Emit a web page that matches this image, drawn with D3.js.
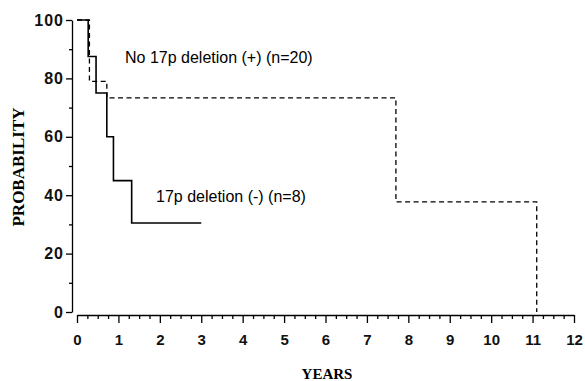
<!DOCTYPE html>
<html>
<head>
<meta charset="utf-8">
<script src="https://cdn.jsdelivr.net/npm/d3@7"></script>
<style>
  body { margin: 0; background: #fff; }
  .tick text { font-family: "Liberation Sans", Arial, sans-serif; font-weight: bold; font-size: 15px; }
  .y-axis .tick text { font-size: 16px; letter-spacing: 1px; }
  .axis-title { font-family: "Liberation Serif", "Times New Roman", serif; font-weight: bold; }
  .note { font-family: "Liberation Sans", Arial, sans-serif; font-size: 16px; }
</style>
</head>
<body>
<div class="canvas"></div>
<script>
// survival curve: 17p deletion (-) n=8, solid
const delTimes = [0, 0.27, 0.46, 0.72, 0.88, 1.32, 3.0];
const delProb  = [100, 87.5, 75, 60, 45, 30.5, 30.5];

// survival curve: no 17p deletion (+) n=20, dashed
const noDelTimes = [0, 0.3, 0.72, 7.7, 11.1];
const noDelProb  = [100, 79, 73.3, 37.7, 0];

const xTicks = [0, 1, 2, 3, 4, 5, 6, 7, 8, 9, 10, 11, 12];
const yTicks = [0, 20, 40, 60, 80, 100];
const labels = ['No 17p deletion (+) (n=20)', '17p deletion (-) (n=8)'];

const dims = { width: 585, height: 381 };

const svg = d3.select('.canvas')
            .append('svg')
            .attr('width', dims.width)
            .attr('height', dims.height);

const x = d3.scaleLinear().domain([0, 12]).range([77, 574]);
const y = d3.scaleLinear().domain([0, 100]).range([312, 20]);

// y axis (major + minor ticks)
svg.append('g')
   .attr('class', 'y-axis')
   .attr('transform', 'translate(72, 0)')
   .call(d3.axisLeft(y).tickValues(yTicks).tickSize(6).tickSizeOuter(0).tickPadding(2));
svg.append('g')
   .attr('transform', 'translate(72, 0)')
   .call(d3.axisLeft(y).tickValues([10, 30, 50, 70, 90]).tickSize(3).tickFormat(''))
   .select('.domain').remove();

// x axis (major + quarter-year minor ticks)
svg.append('g')
   .attr('transform', 'translate(0, 315)')
   .call(d3.axisBottom(x).tickValues(xTicks).tickSize(8).tickSizeOuter(0).tickPadding(11));
svg.append('g')
   .attr('transform', 'translate(0, 315)')
   .call(d3.axisBottom(x).tickValues(d3.range(0, 12.01, 0.25).filter(v => v % 1 !== 0)).tickSize(4).tickFormat(''))
   .select('.domain').remove();

svg.selectAll('.domain, .tick line').attr('stroke', '#000').attr('stroke-width', 1.3);
svg.selectAll('.tick text').attr('fill', '#111');

// axis titles
svg.append('text')
   .attr('class', 'axis-title')
   .attr('x', 327).attr('y', 379)
   .attr('text-anchor', 'middle')
   .style('font-size', '15px')
   .text('YEARS');

svg.append('text')
   .attr('class', 'axis-title')
   .attr('transform', 'translate(24, 167) rotate(-90)')
   .attr('text-anchor', 'middle')
   .style('font-size', '17px')
   .text('PROBABILITY');

// step lines
const line = d3.line()
               .x(d => x(d[0]))
               .y(d => y(d[1]))
               .curve(d3.curveStepAfter);

svg.append('path')
   .datum(noDelTimes.map((t, i) => [t, noDelProb[i]]))
   .attr('d', line)
   .attr('fill', 'none')
   .attr('stroke', '#000')
   .attr('stroke-width', 1.3)
   .attr('stroke-dasharray', '5,3.5');

svg.append('path')
   .datum(delTimes.map((t, i) => [t, delProb[i]]))
   .attr('d', line)
   .attr('fill', 'none')
   .attr('stroke', '#000')
   .attr('stroke-width', 1.6);

// curve labels
svg.append('text')
   .attr('class', 'note')
   .attr('x', 125).attr('y', 63)
   .text(labels[0]);

svg.append('text')
   .attr('class', 'note')
   .attr('x', 156).attr('y', 202)
   .text(labels[1]);
</script>
</body>
</html>
